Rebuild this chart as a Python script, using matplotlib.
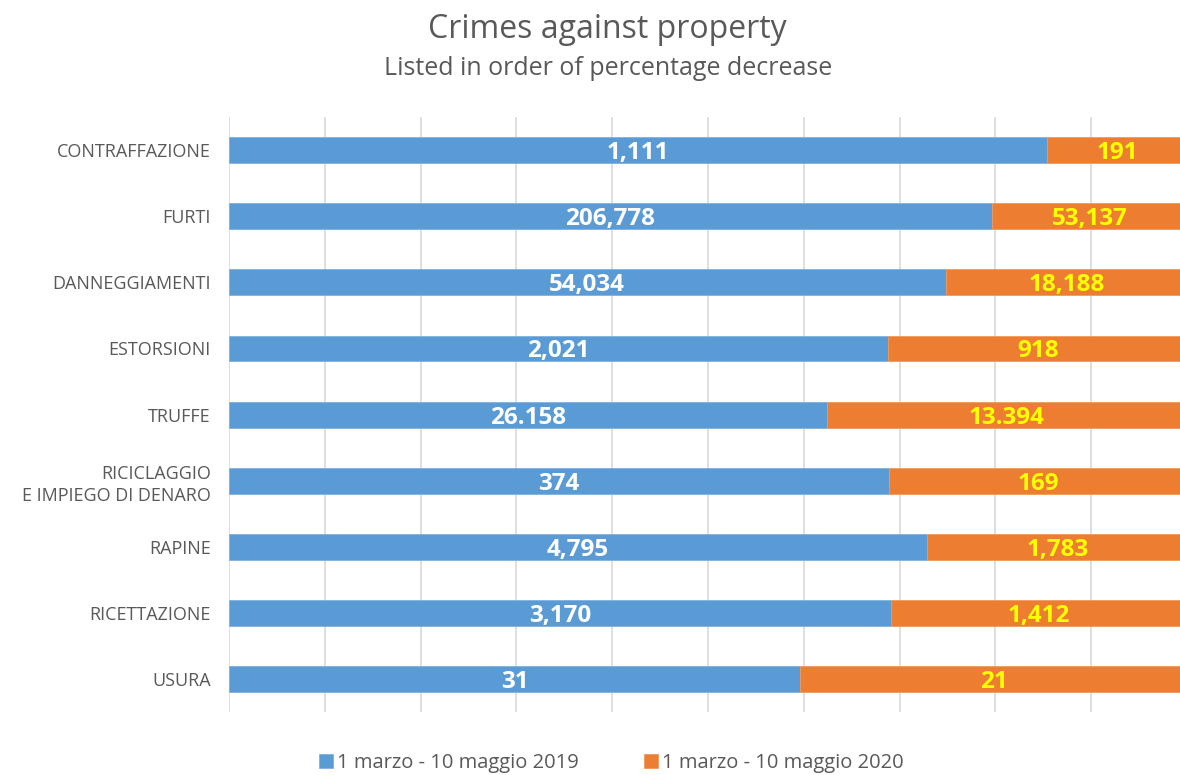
import matplotlib
matplotlib.use("Agg")
import matplotlib.pyplot as plt
import numpy as np

plt.rcParams["font.family"] = ["Open Sans", "DejaVu Sans"]

BLUE = "#5B9BD5"
ORANGE = "#ED7D31"
GREY = "#595959"

categories = ["CONTRAFFAZIONE", "FURTI", "DANNEGGIAMENTI", "ESTORSIONI", "TRUFFE",
              "RICICLAGGIO\nE IMPIEGO DI DENARO", "RAPINE", "RICETTAZIONE", "USURA"]
# printed counts
labels_2019 = ["1,111", "206,778", "54,034", "2,021", "26.158", "374", "4,795", "3,170", "31"]
labels_2020 = ["191", "53,137", "18,188", "918", "13.394", "169", "1,783", "1,412", "21"]
# bar shares (%)
share_2019 = [85.4, 79.6, 74.8, 68.8, 62.4, 68.9, 72.9, 69.1, 59.6]
share_2020 = [14.6, 20.4, 25.2, 31.2, 37.6, 31.1, 27.1, 30.9, 40.4]

p19 = np.array(share_2019)
p20 = np.array(share_2020)
y = np.arange(len(categories))

fig = plt.figure(figsize=(11.8, 7.75), dpi=100)
ax = fig.add_axes([0.194, 0.081, 0.812, 0.768])

ax.barh(y, p19, height=0.39, color=BLUE, edgecolor="#7fb1df", linewidth=0.6,
        zorder=3, label="1 marzo - 10 maggio 2019")
ax.barh(y, p20, left=p19, height=0.39, color=ORANGE, edgecolor="#f09a5c",
        linewidth=0.6, zorder=3, label="1 marzo - 10 maggio 2020")

# value labels, nudged a touch below centre like the original
for i in range(len(categories)):
    ax.text(p19[i] / 2, y[i] + 0.045, labels_2019[i], ha="center", va="center",
            fontsize=17.5, fontweight="bold", color="white", zorder=4)
    ax.text(p19[i] + p20[i] / 2, y[i] + 0.045, labels_2020[i], ha="center",
            va="center", fontsize=17.5, fontweight="bold", color="#FFFF00",
            zorder=4)

ax.set_xlim(0, 100)
ax.set_ylim(len(categories) - 0.5, -0.5)
ax.set_xticks(np.arange(0, 101, 10))
ax.set_xticklabels([])
ax.tick_params(axis="x", length=0)
ax.tick_params(axis="y", length=0, pad=13, labelsize=13, labelcolor=GREY)
ax.set_yticks(y)
ax.set_yticklabels(categories, linespacing=1.3)
ax.grid(axis="x", color="#d9d9d9", linewidth=1.2, zorder=0)
ax.set_axisbelow(True)
for s in ax.spines.values():
    s.set_visible(False)

fig.text(0.515, 0.962, "Crimes against property", ha="center", va="center",
         fontsize=23, color=GREY)
fig.text(0.515, 0.911, "Listed in order of percentage decrease", ha="center",
         va="center", fontsize=18, color=GREY)

fig.legend(loc="center", bbox_to_anchor=(0.518, 0.016), ncol=2, frameon=False,
           fontsize=14.5, labelcolor=GREY, handlelength=0.7, handleheight=0.7,
           handletextpad=0.2, columnspacing=3.2)

fig.savefig("out.png", dpi=100)
